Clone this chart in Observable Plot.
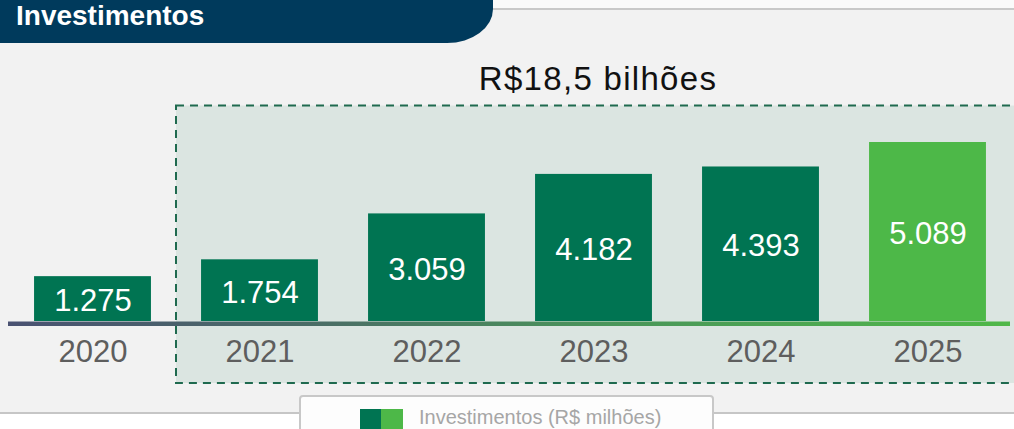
<!DOCTYPE html>
<html><head><meta charset="utf-8">
<script src="https://cdn.jsdelivr.net/npm/d3@7"></script>
<script src="https://cdn.jsdelivr.net/npm/@observablehq/plot@0.6"></script>
<style>
html,body{margin:0;padding:0;background:#f2f2f2;overflow:hidden;width:1014px;height:429px;font-family:"Liberation Sans",Arial,Helvetica,sans-serif;}
#header{position:relative;height:43px;width:1014px;overflow:hidden;}
#header .topband{position:absolute;left:0;top:0;width:1014px;height:8px;background:#fafafa;}
#header .topline{position:absolute;left:0;top:8px;width:1014px;height:2px;background:#c9c9c9;}
#header .bar{position:absolute;left:0;top:0;width:493px;height:43px;background:#003a5c;border-bottom-right-radius:46px 34px;}
#header .bar span{position:absolute;left:16px;top:1.5px;color:#fff;font-weight:bold;font-size:28px;line-height:28px;white-space:nowrap;}
#chart{width:1014px;height:352px;overflow:hidden;}
#chart svg{display:block;}
#legend{position:relative;height:34px;width:1014px;overflow:hidden;}
#legend .lowfill{position:absolute;left:0;top:17px;width:1014px;height:20px;background:#ffffff;}
#legend .lowline{position:absolute;left:0;top:16.5px;width:1014px;height:2px;background:#c6c6c6;}
#legend .box{position:absolute;left:299px;top:0;width:411px;height:50px;border:2px solid #c8c8c8;border-radius:4px;background:#fdfdfd;}
#legend .sw{position:absolute;top:14px;height:20px;width:22px;}
#legend .lbl{position:absolute;left:419px;top:11.5px;font-size:20px;line-height:20px;color:#a6a6a6;white-space:nowrap;}
</style>
</head><body>
<div id="header"><div class="topband"></div><div class="topline"></div><div class="bar"><span id="ttl"></span></div></div>
<div id="chart"></div>
<div id="legend"><div class="lowfill"></div><div class="lowline"></div><div class="box"></div></div>
<script>
// ---- data ----
const chartTitle = "Investimentos";
const years = [2020, 2021, 2022, 2023, 2024, 2025];
const values = [1275, 1754, 3059, 4182, 4393, 5089];
const barColors = ["#007452", "#007452", "#007452", "#007452", "#007452", "#4db848"];
const boxYears = [2021, 2022, 2023, 2024, 2025];
const legendLabel = "Investimentos (R$ milhões)";
const legendColors = ["#007452", "#4db848"];

// ---- build ----
document.getElementById("ttl").textContent = chartTitle;
const ptBR = d3.formatLocale({decimal: ",", thousands: ".", grouping: [3], currency: ["R$", ""]});
const fmtInt = ptBR.format(",d");
const fmtDec = ptBR.format(",.1f");
const data = years.map((y, i) => ({year: y, value: values[i], color: barColors[i]}));
const boxTotal = d3.sum(data.filter(d => boxYears.includes(d.year)), d => d.value);
const totalLabel = "R$" + fmtDec(boxTotal / 1000) + " bilhões";
const half = 0.35;
const font = "Liberation Sans, Arial, Helvetica, sans-serif";

const svg = Plot.plot({
  width: 1014, height: 352, margin: 0,
  x: {domain: [2020, 2025], range: [92.5, 927.5], axis: null},
  y: {domain: [0, 5089], range: [278, 99], axis: null},
  color: {type: "identity"},
  style: {background: "transparent", fontFamily: font, overflow: "visible"},
  marks: [
    Plot.rect([{x1: d3.min(boxYears) - 0.5, x2: d3.max(boxYears) + 0.6}], {
      x1: "x1", x2: "x2", insetTop: 62.5, insetBottom: 12,
      fill: "#dbe5e1", stroke: "#1f6a4f", strokeWidth: 2, strokeDasharray: "8,6"
    }),
    Plot.rectY(data, {x1: d => d.year - half, x2: d => d.year + half, y: "value", fill: "color"}),
    Plot.ruleY([0], {stroke: "url(#baseGrad)", strokeWidth: 4.6, dy: 2.3, insetLeft: 8, insetRight: 4}),
    Plot.text(data, {x: "year", y: d => d.value / 2, text: d => fmtInt(d.value), fill: "white", fontSize: 31, dy: 2, lineAnchor: "middle"}),
    Plot.text(years, {x: d => d, text: d => String(d), frameAnchor: "bottom", lineAnchor: "middle", dy: -43, fontSize: 31, fill: "#5e5e5e"}),
    Plot.text([totalLabel], {x: [d3.mean(boxYears)], text: d => d, frameAnchor: "top", lineAnchor: "middle", dy: 36, dx: 4, fontSize: 33, fill: "#111111", style: "letter-spacing:1.3px"})
  ]
});

const defs = d3.select(svg).insert("defs", ":first-child");
const g = defs.append("linearGradient").attr("id", "baseGrad")
  .attr("gradientUnits", "userSpaceOnUse").attr("x1", 8).attr("x2", 1010).attr("y1", 0).attr("y2", 0);
[[0, "#4a5272"], [0.3, "#4a6c66"], [0.6, "#4a955a"], [1, "#4fb848"]].forEach(([o, c]) =>
  g.append("stop").attr("offset", o).attr("stop-color", c));
d3.select(svg).selectAll("g[aria-label='rule'] line").attr("stroke", "url(#baseGrad)");
d3.select(svg).selectAll("g[aria-label='text'] text").filter(function() { return this.textContent === totalLabel; })
  .style("letter-spacing", "1.3px");
document.getElementById("chart").appendChild(svg);

// legend
const leg = d3.select("#legend");
legendColors.forEach((c, i) => {
  leg.append("div").attr("class", "sw").style("left", (360 + i * 21) + "px").style("background", c);
});
leg.append("div").attr("class", "lbl").text(legendLabel);
</script>
</body></html>
